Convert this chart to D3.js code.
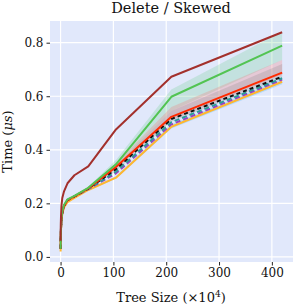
<!DOCTYPE html>
<html>
<head>
    <meta charset="utf-8">
    <title>Delete / Skewed</title>
    <script src="https://cdn.jsdelivr.net/npm/d3@7"></script>
    <style>
        body { margin: 0; background: #fff; }
        text { font-family: "DejaVu Serif", serif; fill: #111; }
    </style>
</head>
<body>
<script>
    // tree sizes are powers of two, shown in units of 10^4
    var exponents = [10, 11, 12, 13, 14, 15, 16, 17, 18, 19, 20, 21, 22];
    var sizes = exponents.map(function (k) { return Math.pow(2, k) / 1e4; });

    var brown  = [0.06, 0.09, 0.12, 0.15, 0.19, 0.22, 0.245, 0.275, 0.305, 0.338, 0.476, 0.673, 0.839];
    var green  = [0.03, 0.05, 0.08, 0.11, 0.145, 0.17, 0.195, 0.215, 0.228, 0.258, 0.346, 0.598, 0.789];
    var red    = [0.03, 0.05, 0.075, 0.105, 0.14, 0.165, 0.19, 0.212, 0.226, 0.256, 0.336, 0.523, 0.688];
    var black  = [0.03, 0.05, 0.075, 0.105, 0.14, 0.165, 0.19, 0.212, 0.226, 0.255, 0.328, 0.515, 0.673];
    var teal   = [0.03, 0.05, 0.075, 0.105, 0.14, 0.165, 0.19, 0.212, 0.226, 0.254, 0.318, 0.503, 0.667];
    var purple = [0.03, 0.05, 0.075, 0.105, 0.14, 0.165, 0.19, 0.212, 0.226, 0.253, 0.312, 0.495, 0.662];
    var orange = [0.02, 0.04, 0.07, 0.10, 0.135, 0.16, 0.185, 0.205, 0.220, 0.250, 0.296, 0.486, 0.654];

    // shaded spread (low, high) for some series
    var greenLow  = [0.03, 0.05, 0.08, 0.11, 0.145, 0.17, 0.195, 0.215, 0.228, 0.256, 0.336, 0.545, 0.735];
    var greenHigh = [0.03, 0.05, 0.08, 0.11, 0.145, 0.17, 0.195, 0.215, 0.228, 0.262, 0.362, 0.625, 0.842];
    var redLow    = [0.03, 0.05, 0.075, 0.105, 0.14, 0.165, 0.19, 0.212, 0.226, 0.254, 0.330, 0.510, 0.680];
    var redHigh   = [0.03, 0.05, 0.075, 0.105, 0.14, 0.165, 0.19, 0.212, 0.226, 0.260, 0.350, 0.560, 0.735];
    var blackLow  = [0.03, 0.05, 0.075, 0.105, 0.14, 0.165, 0.19, 0.212, 0.226, 0.253, 0.320, 0.505, 0.665];
    var blackHigh = [0.03, 0.05, 0.075, 0.105, 0.14, 0.165, 0.19, 0.212, 0.226, 0.258, 0.340, 0.545, 0.720];
    var orangeLow  = [0.02, 0.04, 0.07, 0.10, 0.135, 0.16, 0.185, 0.205, 0.220, 0.248, 0.292, 0.480, 0.645];
    var orangeHigh = [0.02, 0.04, 0.07, 0.10, 0.135, 0.16, 0.185, 0.205, 0.220, 0.252, 0.302, 0.495, 0.665];

    var xTicks = [0, 100, 200, 300, 400];
    var yTicks = [0.0, 0.2, 0.4, 0.6, 0.8];

    var width = 298, height = 307;
    var plot = {left: 50, right: 293, top: 21, bottom: 262};

    var svg = d3.select('body').append('svg').attr('width', width).attr('height', height);

    var x = d3.scaleLinear().domain([-20, 440]).range([plot.left, plot.right]);
    var y = d3.scaleLinear().domain([-0.019, 0.881]).range([plot.bottom, plot.top]);

    svg.append('rect')
        .attr('x', plot.left).attr('y', plot.top)
        .attr('width', plot.right - plot.left).attr('height', plot.bottom - plot.top)
        .attr('fill', '#e1e8fb');

    // grid
    svg.append('g').selectAll('line').data(xTicks).enter().append('line')
        .attr('x1', function (d) { return x(d); }).attr('x2', function (d) { return x(d); })
        .attr('y1', plot.top).attr('y2', plot.bottom)
        .attr('stroke', '#fff').attr('stroke-width', 1.2);
    svg.append('g').selectAll('line').data(yTicks).enter().append('line')
        .attr('y1', function (d) { return y(d); }).attr('y2', function (d) { return y(d); })
        .attr('x1', plot.left).attr('x2', plot.right)
        .attr('stroke', '#fff').attr('stroke-width', 1.2);

    // axes
    var xAxis = svg.append('g').attr('transform', 'translate(0,' + plot.bottom + ')')
        .call(d3.axisBottom(x).tickValues(xTicks).tickSize(3.5).tickPadding(3).tickFormat(d3.format('d')));
    var yAxis = svg.append('g').attr('transform', 'translate(' + plot.left + ',0)')
        .call(d3.axisLeft(y).tickValues(yTicks).tickSize(3.5).tickPadding(3).tickFormat(d3.format('.1f')));
    [xAxis, yAxis].forEach(function (a) {
        a.select('.domain').remove();
        a.selectAll('line').attr('stroke', '#222');
        a.selectAll('text').attr('font-size', 12).attr('font-family', '"DejaVu Serif", serif').attr('fill', '#111');
    });

    var area = d3.area()
        .x(function (d) { return x(d[0]); })
        .y0(function (d) { return y(d[1]); })
        .y1(function (d) { return y(d[2]); });
    var line = d3.line()
        .x(function (d) { return x(d[0]); })
        .y(function (d) { return y(d[1]); });

    function band(lo, hi, color, op) {
        svg.append('path')
            .datum(sizes.map(function (s, i) { return [s, lo[i], hi[i]]; }))
            .attr('d', area).attr('fill', color).attr('fill-opacity', op).attr('stroke', 'none');
    }
    function series(vals, color, dash, w) {
        svg.append('path')
            .datum(sizes.map(function (s, i) { return [s, vals[i]]; }))
            .attr('d', line).attr('fill', 'none').attr('stroke', color)
            .attr('stroke-width', w || 2).attr('stroke-dasharray', dash || null)
            .attr('stroke-linejoin', 'round');
    }

    band(greenLow, greenHigh, '#5cc87a', 0.22);
    band(redLow, redHigh, '#f08080', 0.3);
    band(blackLow, blackHigh, '#888', 0.25);
    band(orangeLow, orangeHigh, '#87cefa', 0.5);

    series(orange, '#ffb62e');
    series(purple, '#9b3fc2', '5,3');
    series(teal, '#2a9d9a', '5,3');
    series(black, '#111', '4,3');
    series(red, '#ff2a00');
    series(green, '#52c452');
    series(brown, '#a3302c');

    svg.append('text').attr('x', 171).attr('y', 13).attr('text-anchor', 'middle')
        .attr('font-size', 14.5).text('Delete / Skewed');

    var xl = svg.append('text').attr('x', 171).attr('y', 302).attr('text-anchor', 'middle')
        .attr('font-size', 13);
    xl.append('tspan').text('Tree Size (×10');
    xl.append('tspan').attr('dy', -5).attr('font-size', 9).text('4');
    xl.append('tspan').attr('dy', 5).text(')');

    var yl = svg.append('text').attr('transform', 'translate(12,' + ((plot.top + plot.bottom) / 2) + ') rotate(-90)')
        .attr('text-anchor', 'middle').attr('font-size', 13);
    yl.append('tspan').text('Time (');
    yl.append('tspan').attr('font-style', 'italic').text('μs');
    yl.append('tspan').text(')');
</script>
</body>
</html>
